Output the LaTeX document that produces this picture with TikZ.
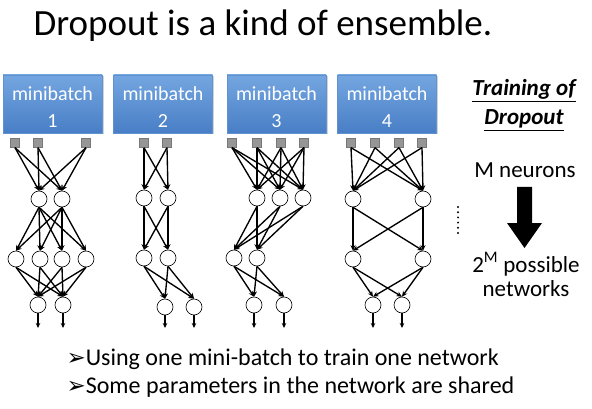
\documentclass[tikz,border=0pt]{standalone}
\usepackage{fontspec}
\setmainfont{Carlito}
\newfontfamily\dingfont{DejaVu Sans}
\usetikzlibrary{arrows.meta,shadows}

\definecolor{boxtop}{RGB}{116,166,224}
\definecolor{boxbot}{RGB}{72,126,198}
\definecolor{boxedge}{RGB}{96,146,210}
\definecolor{inpfill}{RGB}{150,150,150}

\begin{document}
\begin{tikzpicture}[x=1pt,y=-1pt,
  batch/.style={rectangle, draw=boxedge, line width=0.4pt,
    minimum width=99pt, minimum height=58pt, inner sep=0pt,
    top color=boxtop, bottom color=boxbot,
    drop shadow={shadow xshift=1.5pt, shadow yshift=-1.5pt, opacity=0.35},
    label={[text=white, align=center, font=\fontsize{20}{27}\selectfont,
      yshift=-3pt]center:#1}},
  inp/.style={rectangle, fill=inpfill, draw=inpfill!80!black, line width=0.3pt,
    minimum size=9pt, inner sep=0pt},
  neu/.style={circle, draw, fill=white, minimum size=16pt, inner sep=0pt, line width=0.6pt},
  link/.style={-{Stealth[length=5.5pt,width=5pt]}, line width=1.35pt},
  outlink/.style={-{Stealth[length=5pt,width=4.5pt]}, line width=1.35pt},
  sidetext/.style={anchor=base, font=\fontsize{23}{27}\selectfont},
  bullet/.style={anchor=base west, font=\fontsize{24}{28}\selectfont},
]
\useasboundingbox (0,0) rectangle (592,409);

% heading
\node[anchor=base west, font=\fontsize{37}{44}\selectfont] (title) at (30,36)
  {Dropout is a kind of ensemble.};

% mini-batch boxes
\node[batch={minibatch\\1}] (mb1) at (52.5,104) {};
\node[batch={minibatch\\2}] (mb2) at (163,104) {};
\node[batch={minibatch\\3}] (mb3) at (276.5,104) {};
\node[batch={minibatch\\4}] (mb4) at (387,104) {};

% ---------- network 1 ----------
\foreach \n/\x in {1/15,2/38,3/86} \node[inp] (a-i\n) at (\x,143) {};
\foreach \n/\x in {1/39,2/62} \node[neu] (a-h\n) at (\x,199) {};
\foreach \n/\x in {1/16,2/40,3/62,4/86} \node[neu] (a-g\n) at (\x,259) {};
\foreach \n/\x in {1/38,2/63} {
  \node[neu] (a-o\n) at (\x,305) {};
  \coordinate (a-e\n) at (\x,328);
}
\foreach \i in {1,2,3} \foreach \j in {1,2} \draw[link] (a-i\i.south) -- (a-h\j.north);
\foreach \i in {1,2} \foreach \j in {1,...,4} \draw[link] (a-h\i.south) -- (a-g\j.north);
\foreach \i in {1,...,4} \foreach \j in {1,2} \draw[link] (a-g\i.south) -- (a-o\j.north);
\foreach \j in {1,2} \draw[outlink] (a-o\j.south) -- (a-e\j);

% ---------- network 2 ----------
\foreach \n/\x in {1/144,2/167} \node[inp] (b-i\n) at (\x,143) {};
\foreach \n/\x in {1/144,2/168} \node[neu] (b-h\n) at (\x,198) {};
\foreach \n/\x in {1/144,2/168} \node[neu] (b-g\n) at (\x,258) {};
\foreach \n/\x in {1/165,2/194} {
  \node[neu] (b-o\n) at (\x,307) {};
  \coordinate (b-e\n) at (\x,328);
}
\foreach \i in {1,2} \foreach \j in {1,2} \draw[link] (b-i\i.south) -- (b-h\j.north);
\foreach \i in {1,2} \foreach \j in {1,2} \draw[link] (b-h\i.south) -- (b-g\j.north);
\foreach \i in {1,2} \foreach \j in {1,2} \draw[link] (b-g\i.south) -- (b-o\j.north);
\foreach \j in {1,2} \draw[outlink] (b-o\j.south) -- (b-e\j);

% ---------- network 3 ----------
\foreach \n/\x in {1/232,2/257,3/281,4/304} \node[inp] (c-i\n) at (\x,143) {};
\foreach \n/\x in {1/257,2/280,3/303} \node[neu] (c-h\n) at (\x,198) {};
\foreach \n/\x in {1/234,2/257} \node[neu] (c-g\n) at (\x,258) {};
\foreach \n/\x in {1/254,2/284} {
  \node[neu] (c-o\n) at (\x,305) {};
  \coordinate (c-e\n) at (\x,328);
}
\foreach \i in {1,...,4} \foreach \j in {1,2,3} \draw[link] (c-i\i.south) -- (c-h\j.north);
\foreach \i in {1,2,3} \foreach \j in {1,2} \draw[link] (c-h\i.south) -- (c-g\j.north);
\foreach \i in {1,2} \foreach \j in {1,2} \draw[link] (c-g\i.south) -- (c-o\j.north);
\foreach \j in {1,2} \draw[outlink] (c-o\j.south) -- (c-e\j);

% ---------- network 4 ----------
\foreach \n/\x in {1/351,2/375,3/399,4/422} \node[inp] (d-i\n) at (\x,143) {};
\foreach \n/\x in {1/353,2/423} \node[neu] (d-h\n) at (\x,199) {};
\foreach \n/\x in {1/353,2/423} \node[neu] (d-g\n) at (\x,259) {};
\foreach \n/\x in {1/373,2/402} {
  \node[neu] (d-o\n) at (\x,305) {};
  \coordinate (d-e\n) at (\x,328);
}
\foreach \i in {1,...,4} \foreach \j in {1,2} \draw[link] (d-i\i.south) -- (d-h\j.north);
\foreach \i in {1,2} \foreach \j in {1,2} \draw[link] (d-h\i.south) -- (d-g\j.north);
\foreach \i in {1,2} \foreach \j in {1,2} \draw[link] (d-g\i.south) -- (d-o\j.north);
\foreach \j in {1,2} \draw[outlink] (d-o\j.south) -- (d-e\j);

% vertical ellipsis
\foreach \y in {207,212.2,...,234} \fill (458,\y) circle (1.1pt);

% side notes
\node[sidetext, font=\fontsize{23}{27}\selectfont\bfseries\itshape] (tr1) at (524,96) {\underline{Training of}};
\node[sidetext, font=\fontsize{23}{27}\selectfont\bfseries\itshape] (tr2) at (524,125) {\underline{Dropout}};
\node[sidetext] (mn) at (525,178) {M neurons};
\fill (517,187) -- (532,187) -- (532,223) -- (542,223) -- (524.5,248)
  -- (507,223) -- (517,223) -- cycle;
\node[sidetext] (pn) at (526,272) {2\textsuperscript{M} possible};
\node[sidetext] (nw) at (526,296) {networks};

% bullet points
\node[bullet] (b1) at (63,365)
  {\raisebox{-0.5pt}{\dingfont\fontsize{23}{23}\selectfont ➢}Using one mini-batch to train one network};
\node[bullet] (b2) at (63,393)
  {\raisebox{-0.5pt}{\dingfont\fontsize{23}{23}\selectfont ➢}Some parameters in the network are shared};
\end{tikzpicture}
\end{document}
